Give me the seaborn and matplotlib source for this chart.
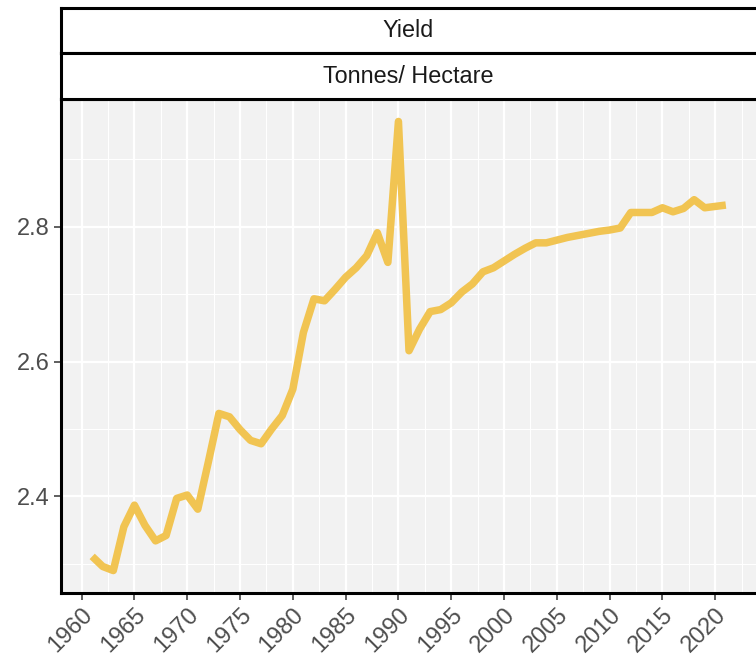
"""
Yield (Tonnes/ Hectare) over time, ggplot-style facet strips.
"""
import matplotlib
matplotlib.use("Agg")
import matplotlib.pyplot as plt
import seaborn as sns
import pandas as pd
from matplotlib.ticker import MultipleLocator

# data
years = list(range(1961, 2022))
yield_t_ha = [
    2.311, 2.296, 2.290, 2.355, 2.387, 2.357, 2.334, 2.342, 2.397, 2.402,
    2.381, 2.451, 2.523, 2.518, 2.499, 2.483, 2.478, 2.500, 2.520, 2.559,
    2.643, 2.693, 2.690, 2.707, 2.725, 2.739, 2.757, 2.791, 2.747, 2.956,
    2.616, 2.648, 2.674, 2.677, 2.687, 2.703, 2.715, 2.733, 2.739, 2.749,
    2.759, 2.768, 2.776, 2.776, 2.780, 2.784, 2.787, 2.790, 2.793, 2.795,
    2.798, 2.821, 2.821, 2.821, 2.828, 2.822, 2.827, 2.840, 2.828, 2.830,
    2.832,
]
strip_labels = ["Yield", "Tonnes/ Hectare"]
x_ticks = list(range(1960, 2021, 5))
y_ticks = [2.4, 2.6, 2.8]

df = pd.DataFrame({"year": years, "value": yield_t_ha})

sns.set_style("white")
plt.rcParams["font.family"] = ["Liberation Sans", "DejaVu Sans"]

W, H = 756, 660
fig = plt.figure(figsize=(W / 100, H / 100), dpi=100)

left = 60.5 / W
width = (757.5 - 60.5) / W
p_top, p_bot = 99 / H, 593 / H

ax = fig.add_axes([left, 1 - p_bot, width, p_bot - p_top])
ax.set_facecolor("#F2F2F2")

sns.lineplot(data=df, x="year", y="value", ax=ax, color="#F1C452",
             linewidth=5.4, solid_capstyle="butt", solid_joinstyle="round")

ax.set_xlim(1958, 2024)
ax.set_ylim(2.2567, 2.9893)
ax.set_xticks(x_ticks)
ax.set_yticks(y_ticks)
ax.set_yticklabels([f"{v:.1f}" for v in y_ticks])
ax.xaxis.set_minor_locator(MultipleLocator(2.5))
ax.yaxis.set_minor_locator(MultipleLocator(0.1))
ax.grid(which="major", color="white", linewidth=1.6)
ax.grid(which="minor", color="white", linewidth=0.8)
ax.set_axisbelow(True)
ax.set_xlabel("")
ax.set_ylabel("")

ax.tick_params(axis="both", which="major", length=5, width=1.1, color="#333333",
               labelsize=17, labelcolor="#4D4D4D", pad=2.5)
ax.tick_params(axis="both", which="minor", length=0)
ax.tick_params(axis="x", bottom=True)
ax.tick_params(axis="y", left=True)
for lab in ax.get_xticklabels():
    lab.set_rotation(45)
    lab.set_ha("right")
    lab.set_va("top")
    lab.set_rotation_mode("anchor")

for sp in ax.spines.values():
    sp.set_visible(True)
    sp.set_color("black")
    sp.set_linewidth(2.2)

# facet strips
strip_edges = [8, 53.3, 99]
for i, label in enumerate(strip_labels):
    t, b = strip_edges[i], strip_edges[i + 1]
    sax = fig.add_axes([left, 1 - b / H, width, (b - t) / H])
    sax.set_facecolor("white")
    sax.set_xticks([])
    sax.set_yticks([])
    for sp in sax.spines.values():
        sp.set_visible(True)
        sp.set_color("black")
        sp.set_linewidth(2.2)
    sax.text(0.5 * (757.5 - 60.5 - 1.5) / (757.5 - 60.5), 0.5, label,
             transform=sax.transAxes, ha="center", va="center",
             fontsize=16.8, color="#1A1A1A")

fig.savefig("out.png", dpi=100)
